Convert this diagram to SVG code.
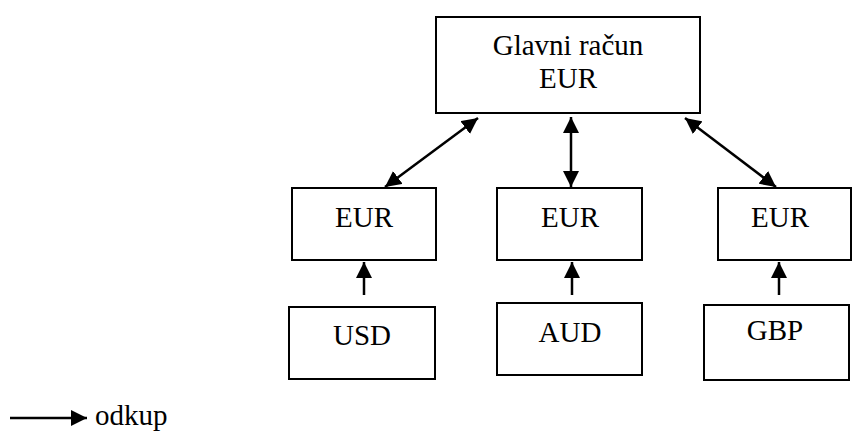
<svg xmlns="http://www.w3.org/2000/svg" width="853" height="432" viewBox="0 0 853 432">
  <style>
    .box { fill: #ffffff; stroke: #000000; stroke-width: 2; }
    .edge { fill: none; stroke: #000000; stroke-width: 2.5; }
    text { font-family: 'Liberation Serif', 'DejaVu Serif', serif; font-size: 29px; fill: #000000; }
  </style>
  <defs>
    <marker id="head" markerUnits="userSpaceOnUse" markerWidth="18" markerHeight="16" refX="16" refY="8" orient="auto-start-reverse">
      <path d="M0,0 L16,8 L0,16 Z" fill="#000000"/>
    </marker>
  </defs>

  <rect width="853" height="432" fill="#ffffff"/>

  <g text-anchor="middle">
    <!-- main account -->
    <g id="main">
      <rect class="box" x="436" y="17" width="264" height="96"/>
      <text x="568" y="55">Glavni račun</text>
      <text x="568" y="88">EUR</text>
    </g>

    <!-- EUR sub-accounts -->
    <g id="eur1">
      <rect class="box" x="292" y="188" width="144" height="72"/>
      <text x="364" y="227">EUR</text>
    </g>
    <g id="eur2">
      <rect class="box" x="497" y="188" width="145" height="72"/>
      <text x="570" y="227">EUR</text>
    </g>
    <g id="eur3">
      <rect class="box" x="718" y="188" width="133" height="72"/>
      <text x="780" y="227">EUR</text>
    </g>

    <!-- foreign currency accounts -->
    <g id="usd">
      <rect class="box" x="289" y="307" width="146" height="72"/>
      <text x="362" y="345">USD</text>
    </g>
    <g id="aud">
      <rect class="box" x="497" y="303" width="145" height="72"/>
      <text x="570" y="342">AUD</text>
    </g>
    <g id="gbp">
      <rect class="box" x="704" y="305" width="145" height="75"/>
      <text x="775" y="340">GBP</text>
    </g>
  </g>

  <!-- connectors -->
  <g id="connectors">
    <line class="edge" x1="385" y1="187" x2="478" y2="118" marker-start="url(#head)" marker-end="url(#head)"/>
    <line class="edge" x1="571" y1="187" x2="571" y2="117" marker-start="url(#head)" marker-end="url(#head)"/>
    <line class="edge" x1="776" y1="187" x2="685" y2="118" marker-start="url(#head)" marker-end="url(#head)"/>
    <line class="edge" x1="364" y1="295" x2="364" y2="262" marker-end="url(#head)"/>
    <line class="edge" x1="572" y1="295" x2="572" y2="262" marker-end="url(#head)"/>
    <line class="edge" x1="779" y1="295" x2="779" y2="262" marker-end="url(#head)"/>
  </g>

  <!-- legend -->
  <g id="legend">
    <line class="edge" x1="10" y1="418" x2="87" y2="418" marker-end="url(#head)"/>
    <text x="95" y="425">odkup</text>
  </g>
</svg>
